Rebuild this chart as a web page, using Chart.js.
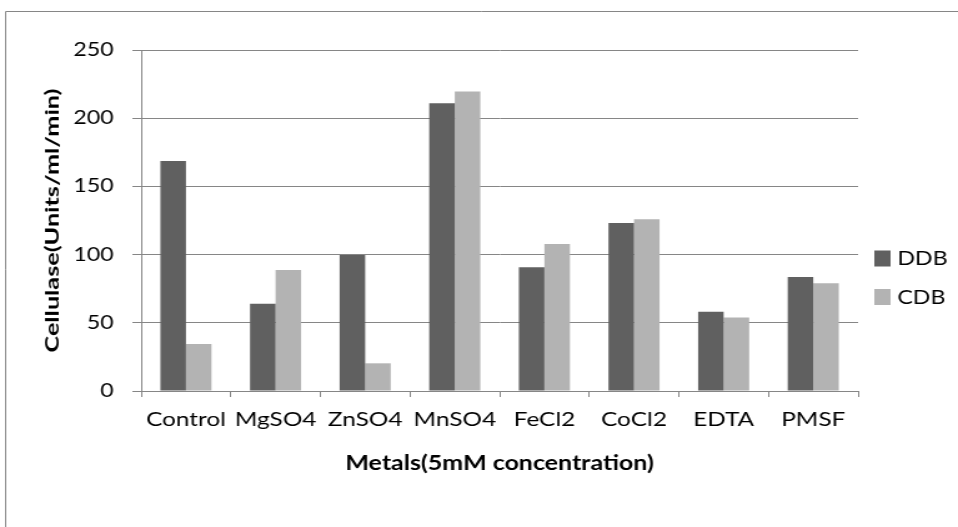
<!DOCTYPE html>
<html>
<head>
<meta charset="utf-8">
<script src="https://cdn.jsdelivr.net/npm/chart.js@4"></script>
<style>
  html, body { margin: 0; padding: 0; background: #fff; overflow: hidden; }
  /* the chart is laid out on a narrower canvas and widened to the page width */
  #wrap { width: 767px; height: 527px; transform: scaleX(1.249); transform-origin: 0 0; }
</style>
</head>
<body>
<div id="wrap"><canvas id="c" width="767" height="527"></canvas></div>
<script>
const categories = ['Control', 'MgSO4', 'ZnSO4', 'MnSO4', 'FeCl2', 'CoCl2', 'EDTA', 'PMSF'];
const ddbValues = [168.6, 64, 99.7, 210.9, 90.7, 123.2, 58.1, 83.6];
const cdbValues = [34.5, 88.7, 20.3, 219.5, 107.8, 125.9, 53.8, 79];
const seriesNames = ['DDB', 'CDB'];
const seriesColors = ['#606060', '#b3b3b3'];
const yTicks = [0, 50, 100, 150, 200, 250];
const yTitle = 'Cellulase(Units/ml/min)';
const xTitle = 'Metals(5mM concentration)';

const FONT = 'Lato';
const AXIS_GREY = '#868686';

// frame line along the left and top edges
const framePlugin = {
  id: 'frame',
  beforeDraw(chart) {
    const ctx = chart.ctx;
    ctx.save();
    ctx.strokeStyle = AXIS_GREY;
    ctx.lineWidth = 1;
    ctx.beginPath();
    ctx.moveTo(4.5, chart.height);
    ctx.lineTo(4.5, 11.5);
    ctx.lineTo(chart.width, 11.5);
    ctx.stroke();
    ctx.restore();
  }
};

// vertical axis title, drawn narrow across and long along the axis
const yTitlePlugin = {
  id: 'yTitle',
  afterDraw(chart) {
    const ctx = chart.ctx;
    const area = chart.chartArea;
    const cy = (area.top + area.bottom) / 2;
    const span = 264;
    ctx.save();
    ctx.font = 'bold 16px ' + FONT;
    const w = ctx.measureText(yTitle).width;
    ctx.translate(41.6, cy);
    ctx.rotate(-Math.PI / 2);
    ctx.scale(span / w, 1);
    ctx.fillStyle = '#000';
    ctx.textAlign = 'center';
    ctx.textBaseline = 'middle';
    ctx.fillText(yTitle, 0, 0);
    ctx.restore();
  }
};

// series key to the right of the plot
const keyPlugin = {
  id: 'seriesKey',
  afterDraw(chart) {
    const ctx = chart.ctx;
    const x0 = chart.chartArea.right + 13;
    ctx.save();
    ctx.font = '18.5px ' + FONT;
    ctx.textBaseline = 'middle';
    ctx.textAlign = 'left';
    chart.data.datasets.forEach((ds, i) => {
      const cy = 258.5 + i * 38.5;
      ctx.fillStyle = ds.backgroundColor;
      ctx.fillRect(x0, cy - 8, 13, 16);
      ctx.fillStyle = '#000';
      ctx.fillText(ds.label, x0 + 18.5, cy + 1);
    });
    ctx.restore();
  }
};

new Chart(document.getElementById('c'), {
  type: 'bar',
  data: {
    labels: categories,
    datasets: [
      { label: seriesNames[0], data: ddbValues, backgroundColor: seriesColors[0] },
      { label: seriesNames[1], data: cdbValues, backgroundColor: seriesColors[1] }
    ]
  },
  options: {
    responsive: false,
    animation: false,
    devicePixelRatio: 1,
    categoryPercentage: 0.57,
    barPercentage: 1.0,
    layout: { padding: { left: 0, top: 50, right: 80, bottom: 0 } },
    plugins: {
      legend: { display: false },
      tooltip: { enabled: false }
    },
    scales: {
      x: {
        afterFit(scale) { scale.height = 136; },
        grid: {
          offset: true,
          drawOnChartArea: false,
          drawTicks: true,
          tickLength: 6,
          color: AXIS_GREY,
          lineWidth: 1
        },
        border: { color: AXIS_GREY, width: 1 },
        ticks: {
          color: '#000',
          padding: 11,
          maxRotation: 0,
          autoSkip: false,
          font: { family: FONT, size: 19.5 }
        },
        title: {
          display: true,
          text: xTitle,
          color: '#000',
          padding: { top: 0, bottom: 51 },
          font: { family: FONT, size: 20, weight: 'bold' }
        }
      },
      y: {
        min: 0,
        max: 250,
        afterFit(scale) { scale.width = 113; },
        afterBuildTicks(scale) { scale.ticks = yTicks.map(v => ({ value: v })); },
        grid: {
          color: AXIS_GREY,
          lineWidth: 1,
          drawTicks: true,
          tickLength: 7
        },
        border: { color: AXIS_GREY, width: 1 },
        ticks: {
          color: '#000',
          padding: 15,
          font: { family: FONT, size: 18.5 }
        },
        title: { display: false, text: yTitle }
      }
    }
  },
  plugins: [framePlugin, yTitlePlugin, keyPlugin]
});
</script>
</body>
</html>
